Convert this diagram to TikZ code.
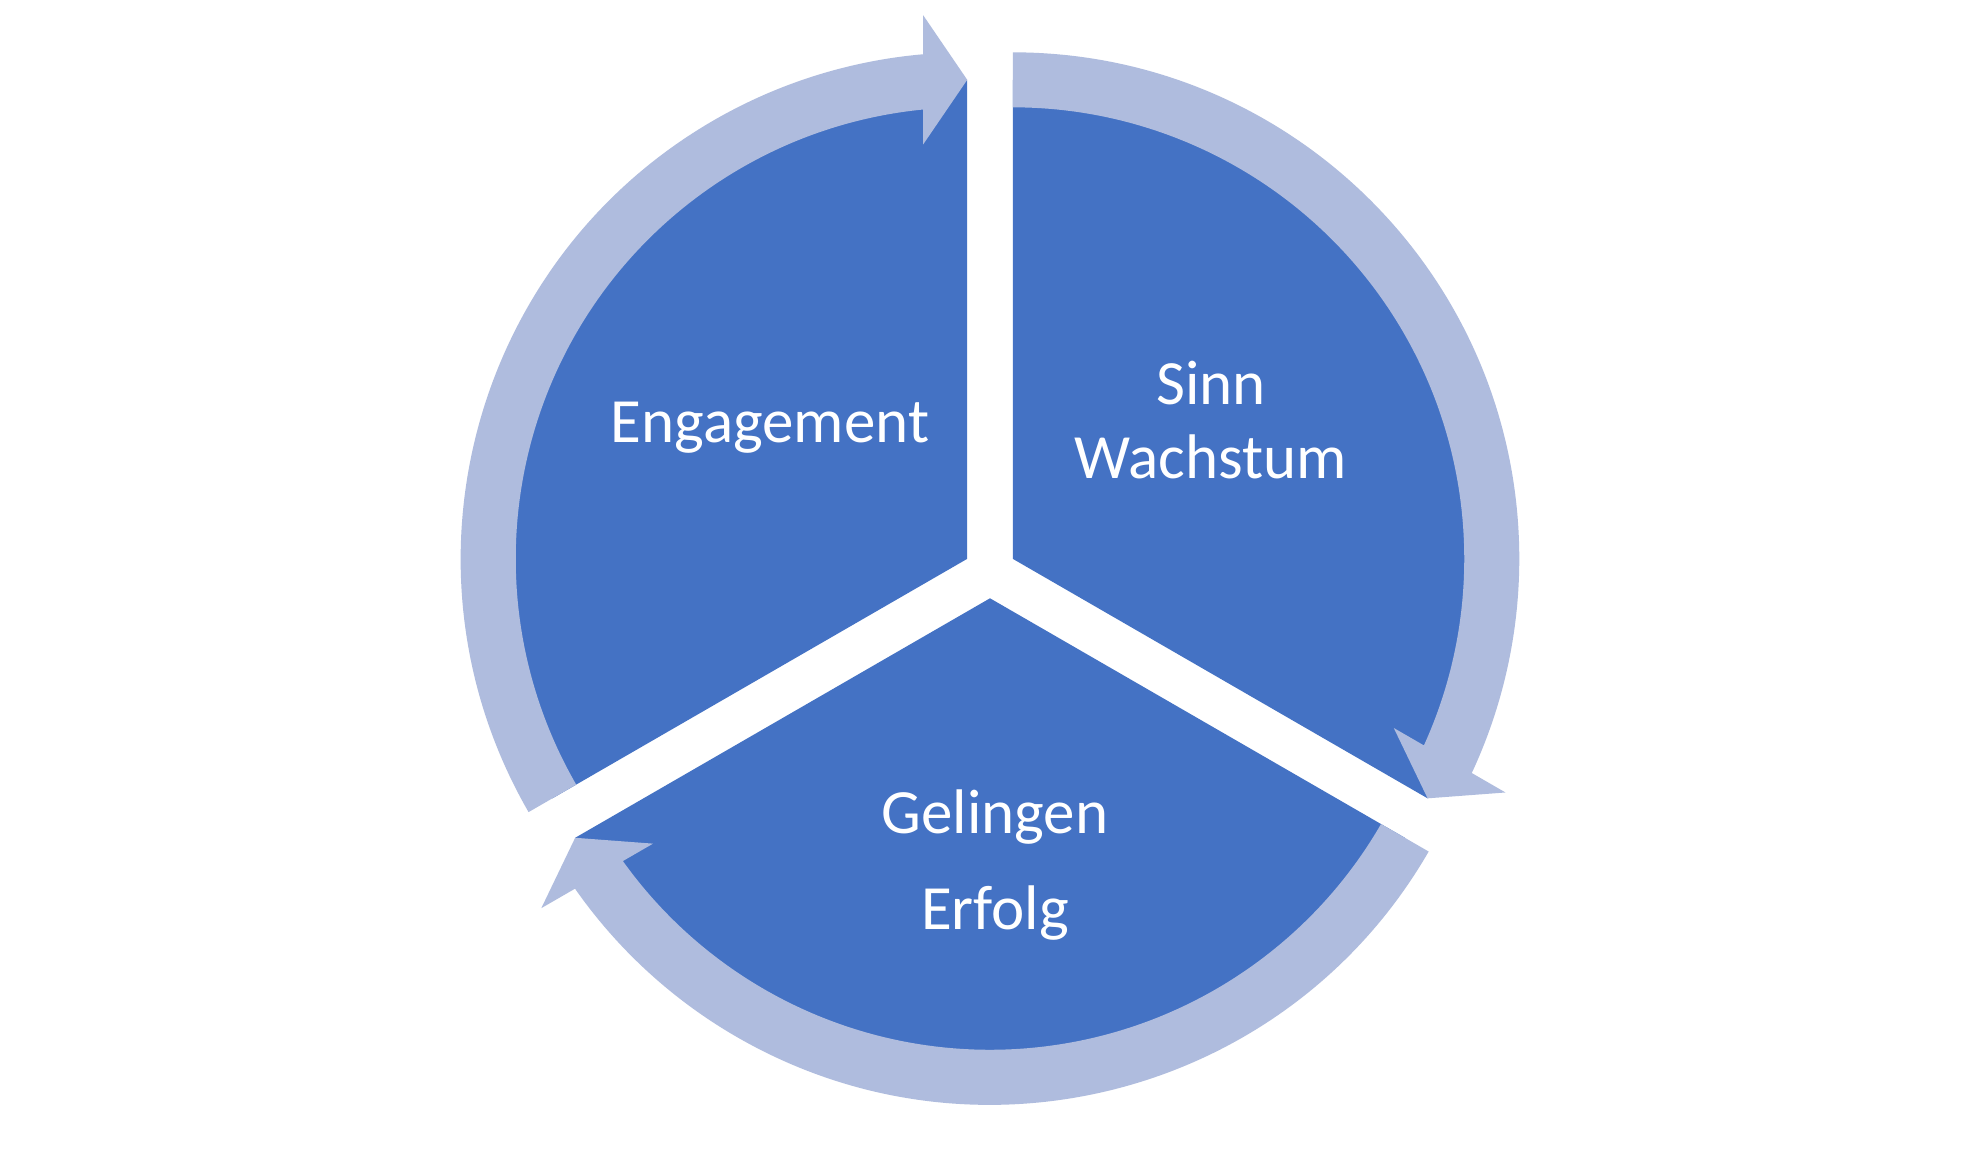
\documentclass[tikz,border=0pt]{standalone}
\usepackage{fontspec}
\setmainfont{Carlito}
\usetikzlibrary{calc}
\definecolor{sectorblue}{RGB}{68,114,196}
\definecolor{arrowblue}{RGB}{175,188,222}
\tikzset{
  sectorfill/.style={fill=sectorblue},
  arrowfill/.style={fill=arrowblue},
  label/.style={text=white, anchor=base, inner sep=0pt, font=\fontsize{63}{75}\selectfont}
}
\newcommand\Rout{506.5}
\newcommand\Rin{451.5}
\newcommand\Rmid{479}
\newcommand\Hh{64.5}
\newcommand\Lh{44}
% apex, start angle, end angle (clockwise)
\newcommand\cyclearrow[3]{%
  \begin{scope}[shift={(#1)}, rotate=#3]
    \pgfmathsetmacro\spanang{#2-(#3)}
    \pgfmathsetmacro\phiO{asin(\Lh/\Rout)}
    \pgfmathsetmacro\phiI{asin(\Lh/\Rin)}
    \fill[arrowfill] (\spanang:\Rout) arc[start angle=\spanang, end angle=\phiO, radius=\Rout]
      -- (\Rmid+\Hh,\Lh) -- (\Rmid,0) -- (\Rmid-\Hh,\Lh) -- (\phiI:\Rin)
      arc[start angle=\phiI, end angle=\spanang, radius=\Rin] -- cycle;
  \end{scope}}
\begin{document}
\begin{tikzpicture}[x=1pt,y=1pt]
\useasboundingbox[fill=white] (0,0) rectangle (1980,1155);
\coordinate (C) at (990,583);
\coordinate (apexR) at ($(C)+(30:26.3)$);
\coordinate (apexL) at ($(C)+(150:26.3)$);
\coordinate (apexB) at ($(C)+(270:26.3)$);
% sectors (their rim lies under the arrow bands)
\fill[sectorfill] (apexR) -- ++(90:\Rmid) arc[start angle=90, end angle=-30, radius=\Rmid] -- cycle;
\fill[sectorfill] (apexL) -- ++(210:\Rmid) arc[start angle=210, end angle=90, radius=\Rmid] -- cycle;
\fill[sectorfill] (apexB) -- ++(330:\Rmid) arc[start angle=330, end angle=210, radius=\Rmid] -- cycle;
% arrows
\cyclearrow{apexR}{90}{-30}
\cyclearrow{apexB}{-30}{-150}
\cyclearrow{apexL}{210}{90}
% labels
\node[label] (eng) at (770,712.7) {Engagement};
\node[label] (sinn) at (1211,750) {Sinn};
\node[label] (wach) at (1211,676.7) {Wachstum};
\node[label] (gel) at (995,321) {Gelingen};
\node[label] (erf) at (995,225) {Erfolg};
\end{tikzpicture}
\end{document}
